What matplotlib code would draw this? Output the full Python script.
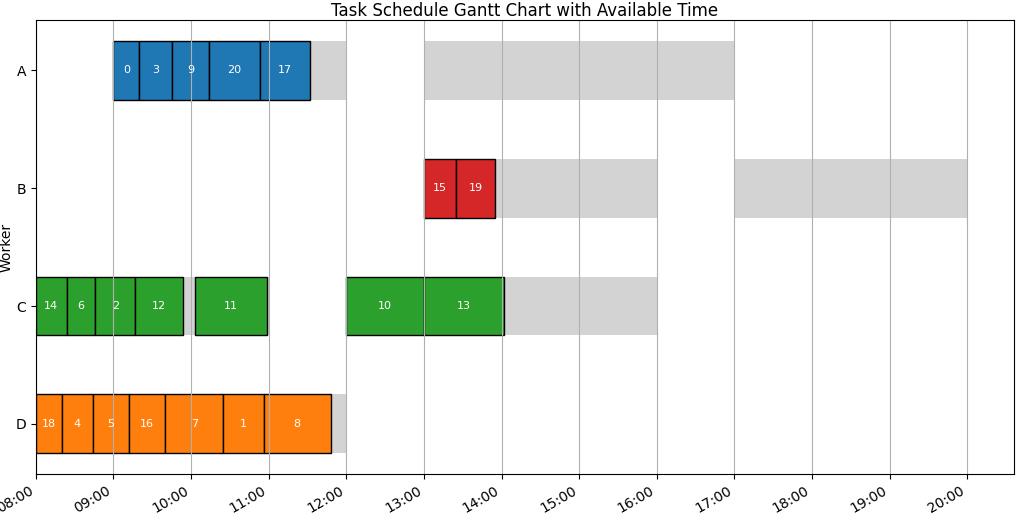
import matplotlib
matplotlib.use("Agg")
import matplotlib.pyplot as plt
import matplotlib.dates as mdates
from datetime import datetime, timedelta

day = datetime(2024, 1, 1)

workers = ["A", "B", "C", "D"]
worker_colors = {"A": "tab:blue", "B": "tab:red", "C": "tab:green", "D": "tab:orange"}

# available windows per worker (start, end) as "HH:MM"
available = {
    "A": [("09:00", "12:00"), ("13:00", "17:00")],
    "B": [("13:00", "16:00"), ("17:00", "20:00")],
    "C": [("08:00", "11:00"), ("12:00", "16:00")],
    "D": [("08:00", "12:00")],
}

# tasks: worker -> list of (task id, start, end)
tasks = {
    "A": [(0, "09:00", "09:20"), (3, "09:20", "09:45"), (9, "09:45", "10:14"),
          (20, "10:14", "10:53"), (17, "10:53", "11:32")],
    "B": [(15, "13:00", "13:25"), (19, "13:25", "13:55")],
    "C": [(14, "08:00", "08:24"), (6, "08:24", "08:46"), (2, "08:46", "09:17"),
          (12, "09:17", "09:54"), (11, "10:03", "10:59"),
          (10, "12:00", "13:00"), (13, "13:00", "14:02")],
    "D": [(18, "08:00", "08:20"), (4, "08:20", "08:44"), (5, "08:44", "09:12"),
          (16, "09:12", "09:40"), (7, "09:40", "10:25"), (1, "10:25", "10:56"),
          (8, "10:56", "11:48")],
}


def t(s):
    h, m = s.split(":")
    return mdates.date2num(day + timedelta(hours=int(h), minutes=int(m)))


fig, ax = plt.subplots(figsize=(10.24, 5.18), dpi=100)
fig.subplots_adjust(left=0.035, right=0.99, top=0.961, bottom=0.085)

ypos = {w: len(workers) - 1 - i for i, w in enumerate(workers)}

for w in workers:
    for s, e in available[w]:
        ax.barh(ypos[w], t(e) - t(s), left=t(s), height=0.5, color="lightgray")
    for tid, s, e in tasks[w]:
        ax.barh(ypos[w], t(e) - t(s), left=t(s), height=0.5, color=worker_colors[w],
                edgecolor="black")
        ax.text((t(s) + t(e)) / 2, ypos[w], str(tid), ha="center", va="center",
                color="white", fontsize=8, zorder=3)

ax.set_yticks([ypos[w] for w in workers])
ax.set_yticklabels(workers)
ax.autoscale_view()
ax.set_xlim(left=t("08:00"))
ax.xaxis.set_major_locator(mdates.HourLocator())
ax.xaxis.set_major_formatter(mdates.DateFormatter("%H:%M"))
plt.setp(ax.get_xticklabels(), rotation=30, ha="right")
ax.grid(axis="x", color="#b0b0b0")

ax.set_xlabel("Time")
ax.set_ylabel("Worker", labelpad=1)
ax.set_title("Task Schedule Gantt Chart with Available Time", pad=3)

fig.savefig("out.png", dpi=100)
